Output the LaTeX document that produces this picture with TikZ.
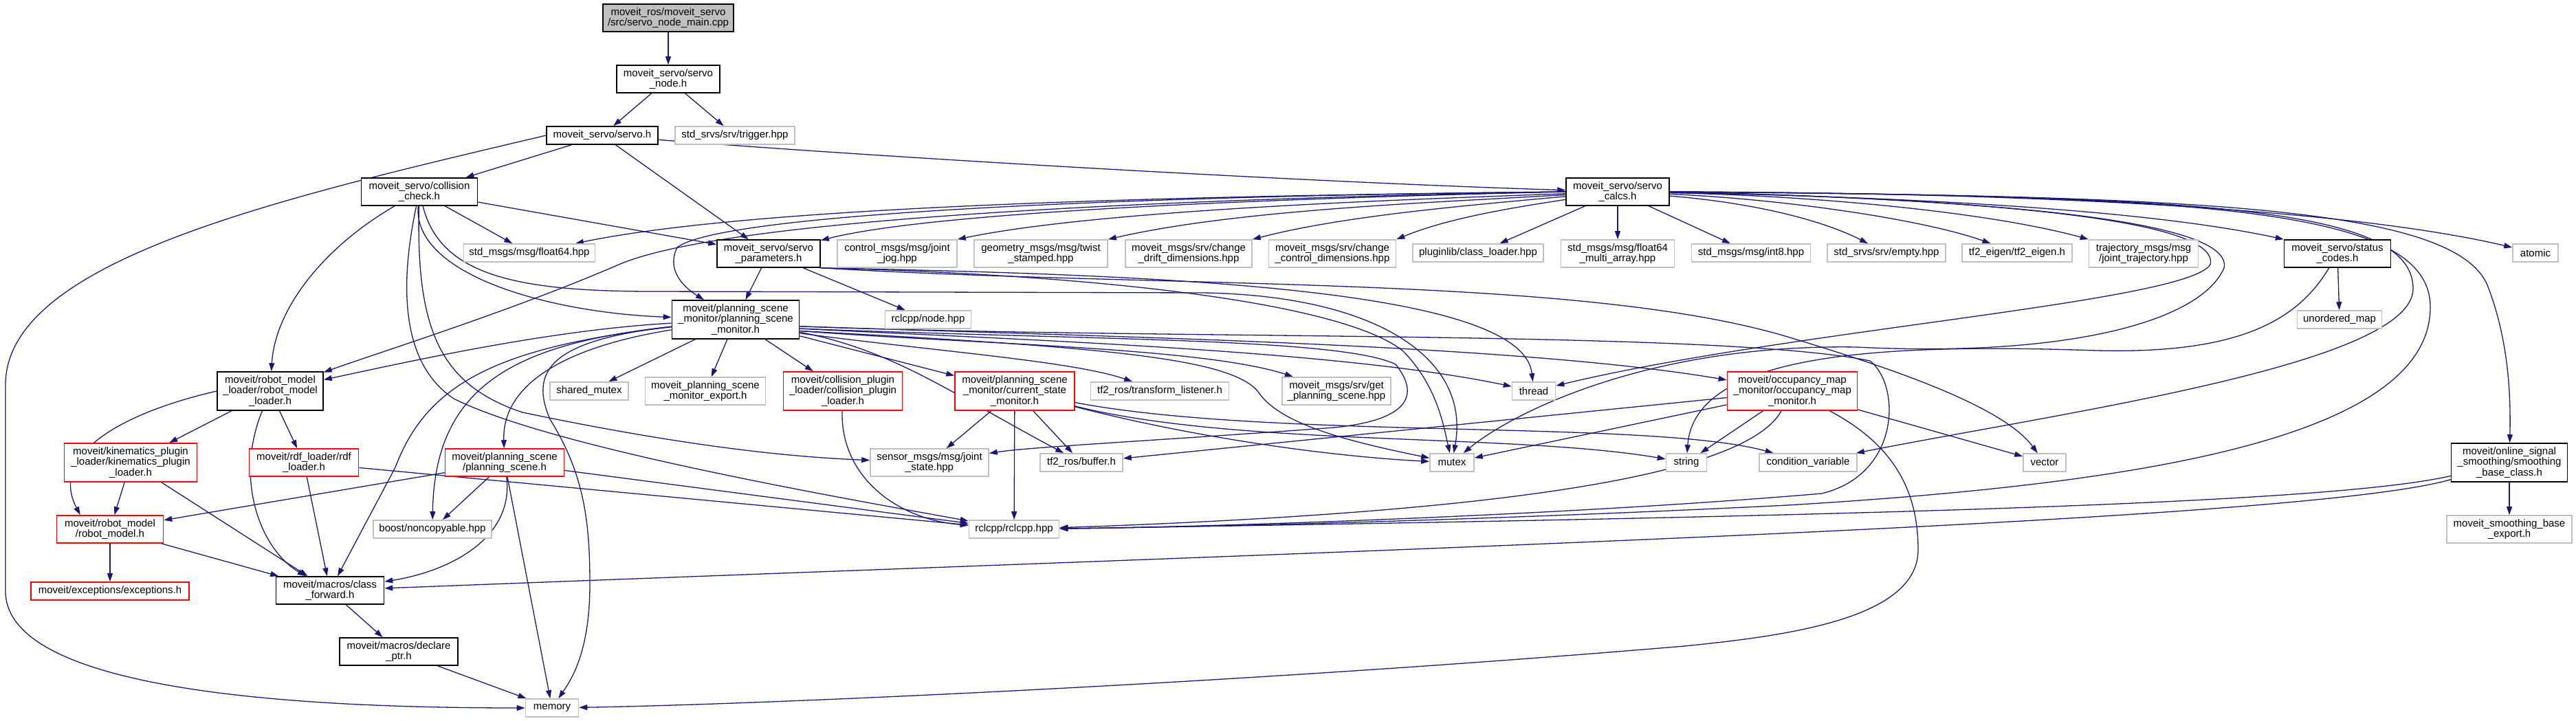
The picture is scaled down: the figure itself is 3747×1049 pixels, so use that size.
\documentclass[tikz,border=0pt]{standalone}
\usepackage{fontspec}
\setmainfont{Liberation Sans}
\usetikzlibrary{arrows.meta}
\pgfdeclarelayer{bg}
\pgfsetlayers{bg,main}
\definecolor{edgec}{RGB}{25,25,112}
\definecolor{grayb}{RGB}{191,191,191}
\definecolor{redb}{RGB}{255,0,0}
\definecolor{mainfill}{RGB}{191,191,191}
\newcommand\mknode[7]{\node[#6,minimum width=#4pt,minimum height=#5pt] (#1) at (#2,#3) {#7};}
\begin{document}
\begin{tikzpicture}[x=1pt,y=-1pt,
  nbox/.style={draw, fill=white, line width=1.6pt, inner sep=0pt, align=center, font=\fontsize{15}{15.5}\selectfont},
  bk/.style={nbox, draw=black},
  gy/.style={nbox, draw=grayb},
  rd/.style={nbox, draw=redb},
  mn/.style={nbox, draw=black, fill=mainfill},
  edg/.style={draw=edgec, line width=1.3pt, -{Triangle[length=12pt,width=8pt]}},
]
\useasboundingbox (0,0) rectangle (3747,1049);

\mknode{main}{972}{26}{190}{40}{mn}{moveit\_ros/moveit\_servo\\/src/servo\_node\_main.cpp}
\mknode{servonode}{972}{115}{150}{40}{bk}{moveit\_servo/servo\\\_node.h}
\mknode{servo}{876}{197}{162}{26}{bk}{moveit\_servo/servo.h}
\mknode{trigger}{1069}{197}{174}{26}{gy}{std\_srvs/srv/trigger.hpp}
\mknode{collision}{610}{279}{169}{40}{bk}{moveit\_servo/collision\\\_check.h}
\mknode{calcs}{2353}{279}{150}{40}{bk}{moveit\_servo/servo\\\_calcs.h}
\mknode{float64}{770}{368}{191}{26}{gy}{std\_msgs/msg/float64.hpp}
\mknode{params}{1118}{369}{150}{40}{bk}{moveit\_servo/servo\\\_parameters.h}
\mknode{jointjog}{1305}{369}{174}{40}{gy}{control\_msgs/msg/joint\\\_jog.hpp}
\mknode{twist}{1514}{369}{194}{40}{gy}{geometry\_msgs/msg/twist\\\_stamped.hpp}
\mknode{drift}{1729}{369}{184}{40}{gy}{moveit\_msgs/srv/change\\\_drift\_dimensions.hpp}
\mknode{control}{1938}{369}{185}{40}{gy}{moveit\_msgs/srv/change\\\_control\_dimensions.hpp}
\mknode{classloader}{2150}{368}{190}{26}{gy}{pluginlib/class\_loader.hpp}
\mknode{multiarray}{2353}{369}{165}{40}{gy}{std\_msgs/msg/float64\\\_multi\_array.hpp}
\mknode{int8}{2547}{368}{173}{26}{gy}{std\_msgs/msg/int8.hpp}
\mknode{empty}{2744}{368}{172}{26}{gy}{std\_srvs/srv/empty.hpp}
\mknode{tfeigen}{2934}{368}{160}{26}{gy}{tf2\_eigen/tf2\_eigen.h}
\mknode{jointtraj}{3118}{369}{159}{40}{gy}{trajectory\_msgs/msg\\/joint\_trajectory.hpp}
\mknode{status}{3400}{369}{155}{40}{bk}{moveit\_servo/status\\\_codes.h}
\mknode{atomic}{3688}{368}{66}{26}{gy}{atomic}
\mknode{psm}{1070}{465}{185}{56}{bk}{moveit/planning\_scene\\\_monitor/planning\_scene\\\_monitor.h}
\mknode{nodehpp}{1350}{465}{125}{26}{gy}{rclcpp/node.hpp}
\mknode{unordered}{3403}{465}{123}{26}{gy}{unordered\_map}
\mknode{rml}{393}{569}{154}{56}{bk}{moveit/robot\_model\\\_loader/robot\_model\\\_loader.h}
\mknode{sharedmutex}{857}{569}{114}{26}{gy}{shared\_mutex}
\mknode{psmexport}{1026}{569}{175}{40}{gy}{moveit\_planning\_scene\\\_monitor\_export.h}
\mknode{collplugin}{1226}{569}{173}{56}{rd}{moveit/collision\_plugin\\\_loader/collision\_plugin\\\_loader.h}
\mknode{csm}{1476}{569}{174}{56}{rd}{moveit/planning\_scene\\\_monitor/current\_state\\\_monitor.h}
\mknode{tflistener}{1687}{569}{201}{26}{gy}{tf2\_ros/transform\_listener.h}
\mknode{getps}{1944}{569}{158}{40}{gy}{moveit\_msgs/srv/get\\\_planning\_scene.hpp}
\mknode{thread}{2231}{569}{63}{26}{gy}{thread}
\mknode{occmap}{2607}{569}{189}{56}{rd}{moveit/occupancy\_map\\\_monitor/occupancy\_map\\\_monitor.h}
\mknode{kin}{190}{673}{193}{56}{rd}{moveit/kinematics\_plugin\\\_loader/kinematics\_plugin\\\_loader.h}
\mknode{rdf}{442}{673}{159}{40}{rd}{moveit/rdf\_loader/rdf\\\_loader.h}
\mknode{ps}{734}{673}{173}{40}{rd}{moveit/planning\_scene\\/planning\_scene.h}
\mknode{jointstate}{1352}{673}{172}{40}{gy}{sensor\_msgs/msg/joint\\\_state.hpp}
\mknode{buffer}{1573}{673}{120}{26}{gy}{tf2\_ros/buffer.h}
\mknode{mutex}{2112}{673}{64}{26}{gy}{mutex}
\mknode{string}{2453}{673}{59}{26}{gy}{string}
\mknode{condvar}{2630}{673}{142}{26}{gy}{condition\_variable}
\mknode{vector}{2974}{673}{62}{26}{gy}{vector}
\mknode{smoothing}{3650}{673}{169}{56}{bk}{moveit/online\_signal\\\_smoothing/smoothing\\\_base\_class.h}
\mknode{robotmodel}{160}{770}{155}{40}{rd}{moveit/robot\_model\\/robot\_model.h}
\mknode{noncopyable}{629}{770}{172}{26}{gy}{boost/noncopyable.hpp}
\mknode{rclcpp}{1475}{770}{131}{26}{gy}{rclcpp/rclcpp.hpp}
\mknode{smoothexport}{3650}{770}{182}{40}{gy}{moveit\_smoothing\_base\\\_export.h}
\mknode{exceptions}{160}{860}{230}{26}{rd}{moveit/exceptions/exceptions.h}
\mknode{classfwd}{480}{859}{157}{40}{bk}{moveit/macros/class\\\_forward.h}
\mknode{declare}{580}{948}{172}{40}{bk}{moveit/macros/declare\\\_ptr.h}
\mknode{memory}{803}{1030}{77}{26}{gy}{memory}

\begin{pgfonlayer}{bg}
% top
\draw[edg] (main) -- (servonode);
\draw[edg] (servonode) -- (servo);
\draw[edg] (servonode) -- (trigger);
\draw[edg] (servo.west) .. controls (400,290) and (8,380) .. (8,560) -- (8,860) .. controls (8,1000) and (400,1030) .. (memory);
\draw[edg] (servo) -- (collision);
\draw[edg] (servo) -- (params);
\draw[edg] (servo) .. controls (1300,230) and (1900,265) .. (calcs);
% collision
\draw[edg] (collision) .. controls (470,360) and (400,450) .. (rml);
\draw[edg] (collision) -- (float64);
\draw[edg] (collision) -- (params);
\draw[edg] (collision) .. controls (600,400) and (800,455) .. (psm);
\draw[edg] (collision) .. controls (580,420) and (585,530) .. (660,580) .. controls (800,650) and (1200,720) .. (rclcpp);
\draw[edg] (collision) .. controls (605,480) and (640,560) .. (760,600) .. controls (1000,650) and (1150,665) .. (jointstate);
\draw[edg] (collision) .. controls (640,400) and (750,424) .. (950,424) -- (1750,426) .. controls (2000,430) and (2140,520) .. (mutex);
% calcs
\draw[edg] (calcs.west) .. controls (1700,285) and (1100,300) .. (float64);
\draw[edg] (calcs.west) .. controls (1800,290) and (1350,310) .. (params);
\draw[edg] (calcs) .. controls (2050,290) and (1600,305) .. (jointjog.north east);
\draw[edg] (calcs) .. controls (2080,295) and (1800,305) .. (twist.north east);
\draw[edg] (calcs) .. controls (2120,300) and (1950,315) .. (drift.north east);
\draw[edg] (calcs) .. controls (2180,305) and (2100,320) .. (control.north east);
\draw[edg] (calcs) -- (classloader);
\draw[edg] (calcs) -- (multiarray);
\draw[edg] (calcs) -- (int8);
\draw[edg] (calcs) .. controls (2550,295) and (2650,320) .. (empty);
\draw[edg] (calcs) .. controls (2600,290) and (2800,320) .. (tfeigen);
\draw[edg] (calcs) .. controls (2650,285) and (2900,310) .. (jointtraj.north west);
\draw[edg] (calcs) .. controls (2700,285) and (3100,300) .. (status.north west);
\draw[edg] (calcs.east) .. controls (2900,280) and (3400,300) .. (atomic);
\draw[edg] (calcs.west) .. controls (1650,285) and (1050,310) .. (985,360) .. controls (970,390) and (990,415) .. (psm);
\draw[edg] (calcs.west) .. controls (1650,290) and (1050,320) .. (900,385) .. controls (750,450) and (560,510) .. (rml);
\draw[edg] (calcs.east) .. controls (3200,285) and (3580,300) .. (3620,420) .. controls (3650,500) and (3652,580) .. (smoothing);
\draw[edg] (calcs.east) .. controls (2900,290) and (3230,320) .. (3215,385) .. controls (3180,440) and (2600,480) .. (thread);
\draw[edg] (calcs.east) .. controls (3200,285) and (3510,300) .. (3510,420) .. controls (3510,530) and (3000,600) .. (condvar);
\draw[edg] (calcs.east) .. controls (3200,285) and (3540,300) .. (3535,450) .. controls (3530,640) and (3100,705) .. (2600,735) .. controls (2200,755) and (1800,766) .. (rclcpp);
\draw[edg] (calcs.east) .. controls (2900,290) and (3250,320) .. (3235,390) .. controls (3200,470) and (3000,520) .. (2700,505) .. controls (2400,500) and (2200,600) .. (mutex);
% psm
\draw[edg] (psm) .. controls (800,480) and (600,525) .. (rml);
\draw[edg] (psm) .. controls (750,500) and (632,560) .. (noncopyable);
\draw[edg] (psm) .. controls (820,505) and (730,560) .. (ps);
\draw[edg] (psm) .. controls (800,495) and (770,540) .. (800,610) .. controls (850,690) and (858,760) .. (858,850) .. controls (858,950) and (830,990) .. (memory);
\draw[edg] (psm) .. controls (720,505) and (620,560) .. (575,680) -- (classfwd);
\draw[edg] (psm) -- (sharedmutex);
\draw[edg] (psm) -- (psmexport);
\draw[edg] (psm) -- (collplugin);
\draw[edg] (psm) -- (csm);
\draw[edg] (psm) .. controls (1300,510) and (1380,570) .. (buffer);
\draw[edg] (psm.-12) .. controls (1350,510) and (1560,525) .. (tflistener);
\draw[edg] (psm.-10) .. controls (1400,500) and (1750,505) .. (getps);
\draw[edg] (psm.-8) .. controls (1500,495) and (1950,510) .. (thread);
\draw[edg] (psm.-10) .. controls (1600,505) and (1790,520) .. (1830,570) .. controls (1860,615) and (1950,640) .. (mutex);
\draw[edg] (psm.-6) .. controls (1600,490) and (2200,500) .. (occmap);
\draw[edg] (psm.-8) .. controls (1600,495) and (1950,492) .. (2030,530) .. controls (2070,580) and (2040,612) .. (1941,622) .. controls (1700,640) and (1500,650) .. (jointstate);
\draw[edg] (psm.-6) .. controls (1700,495) and (2500,480) .. (2720,525) .. controls (2765,560) and (2765,690) .. (2650,718) .. controls (2300,748) and (1800,766) .. (rclcpp);
% csm
\draw[edg] (csm) -- (jointstate);
\draw[edg] (csm) -- (buffer);
\draw[edg] (csm) -- (rclcpp);
\draw[edg] (csm) .. controls (1750,640) and (1950,665) .. (mutex);
\draw[edg] (csm) .. controls (1800,650) and (2200,630) .. (string);
\draw[edg] (csm) .. controls (1850,640) and (2400,610) .. (condvar);
\draw[edg] (collplugin) .. controls (1222,690) and (1300,755) .. (rclcpp);
% rml
\draw[edg] (rml) -- (kin);
\draw[edg] (rml) -- (rdf);
\draw[edg] (rml.west) .. controls (180,600) and (70,660) .. ([xshift=35pt]robotmodel.north west);
\draw[edg] (rml) .. controls (340,700) and (380,800) .. (classfwd);
\draw[edg] (kin) -- (robotmodel);
\draw[edg] (kin) -- (classfwd);
\draw[edg] (rdf) -- (classfwd);
\draw[edg] (rdf) -- (rclcpp);
\draw[edg] (ps) -- (robotmodel);
\draw[edg] (ps) -- (noncopyable);
\draw[edg] (ps) .. controls (748,780) and (660,830) .. (classfwd);
\draw[edg] (ps) -- (memory);
\draw[edg] (ps) -- (rclcpp);
\draw[edg] (robotmodel) -- (exceptions);
\draw[edg] (robotmodel) -- (classfwd);
\draw[edg] (classfwd) -- (declare);
\draw[edg] (declare) -- (memory);
% smoothing
\draw[edg] (smoothing) -- (smoothexport);
\draw[edg] (smoothing) .. controls (3400,730) and (2800,750) .. (rclcpp);
\draw[edg] (smoothing) .. controls (3350,760) and (2000,800) .. (classfwd);
% status
\draw[edg] (status) -- (unordered);
\draw[edg] (status) .. controls (3340,470) and (3250,515) .. (3050,510) .. controls (2750,500) and (2465,510) .. (string);
% occmap
\draw[edg] (occmap) -- (buffer);
\draw[edg] (occmap) -- (mutex);
\draw[edg] (occmap) -- (string);
\draw[edg] (occmap) .. controls (2540,690) and (2200,745) .. (rclcpp);
\draw[edg] (occmap) .. controls (2760,650) and (2790,720) .. (2790,800) .. controls (2790,900) and (2600,925) .. (2450,940) .. controls (1800,995) and (1100,1025) .. (memory);
\draw[edg] (occmap) -- (vector);
% params
\draw[edg] (params) -- (psm);
\draw[edg] (params) -- (nodehpp);
\draw[edg] (params.south east) .. controls (1700,400) and (2215,420) .. (thread);
\draw[edg] (params.south east) .. controls (1700,420) and (2300,400) .. (2600,490) .. controls (2800,550) and (2920,600) .. (vector);
\draw[edg] (params.south east) .. controls (1600,400) and (1950,440) .. (2040,510) .. controls (2090,560) and (2100,620) .. (mutex);
\end{pgfonlayer}
\end{tikzpicture}
\end{document}
